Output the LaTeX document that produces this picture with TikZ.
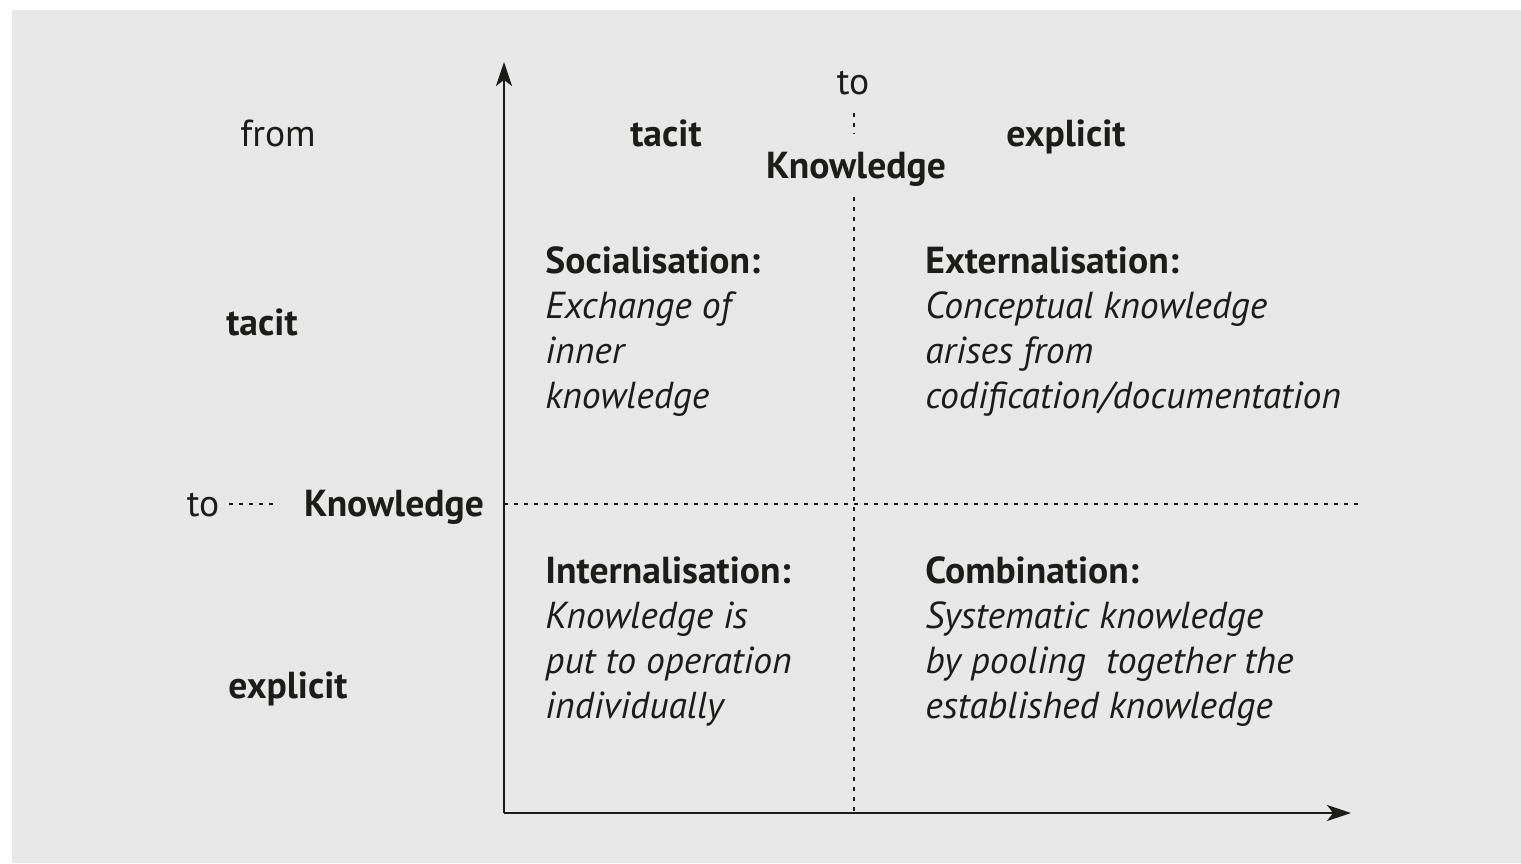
\documentclass[tikz,border=0pt]{standalone}
\usepackage{fontspec}
\setmainfont{PT Sans}
\usetikzlibrary{arrows.meta}
\definecolor{bgc}{HTML}{E8E8E8}
\definecolor{ink}{HTML}{1C1C1A}
\tikzset{
  txt/.style={inner sep=0pt, text=ink, font=\fontsize{18.8}{22.5}\selectfont, anchor=base west},
  ctxt/.style={inner sep=0pt, text=ink, font=\fontsize{18.8}{22.5}\selectfont, anchor=base},
  bld/.style={font=\fontsize{18.8}{22.5}\selectfont\bfseries},
  itl/.style={font=\fontsize{18.8}{22.5}\selectfont\itshape},
  axis/.style={draw=ink, line width=1pt, -{Stealth[length=12pt,width=8pt,inset=3pt]}},
  dotline/.style={draw=ink, line width=0.8pt, dash pattern=on 2.2pt off 2.8pt},
}
\begin{document}
\begin{tikzpicture}[x=0.5pt,y=-0.5pt]
\useasboundingbox (0,0) rectangle (1521,863);
\fill[bgc] (12,10) rectangle (1521,863);
% axes
\coordinate (O) at (504,813);
\coordinate (ytip) at (504,62);
\coordinate (xtip) at (1351,813);
\draw[axis] (O) -- (ytip);
\draw[axis] (O) -- (xtip);
% dotted lines
\coordinate (vtop) at (854,197);
\coordinate (vbot) at (854,813);
\coordinate (vs1) at (854,113);
\coordinate (vs2) at (854,134);
\coordinate (hl) at (504,504);
\coordinate (hr) at (1362,504);
\coordinate (ls1) at (229,504);
\coordinate (ls2) at (279,504);
\draw[dotline] (vtop) -- (vbot);
\draw[dotline] (vs1) -- (vs2);
\draw[dotline] (hl) -- (hr);
\draw[dotline] (ls1) -- (ls2);
% headers
\node[ctxt] (topto) at (853,94) {to};
\node[ctxt,bld] (topK) at (856,178) {Knowledge};
\node[ctxt] (from) at (278,146) {from};
\node[ctxt,bld] (ttacit) at (666,146) {tacit};
\node[ctxt,bld] (texpl) at (1066,146) {explicit};
\node[ctxt,bld] (ltacit) at (262,335) {tacit};
\node[ctxt,bld] (lexpl) at (288,698) {explicit};
\node[ctxt] (lto) at (203,516) {to};
\node[ctxt,bld] (lK) at (394,516) {Knowledge};
% quadrant: socialisation
\node[txt,bld] (s0) at (545,273) {Socialisation:};
\node[txt,itl] (s1) at (545,318) {Exchange of};
\node[txt,itl] (s2) at (545,363) {inner};
\node[txt,itl] (s3) at (545,408) {knowledge};
% externalisation
\node[txt,bld] (e0) at (925,273) {Externalisation:};
\node[txt,itl] (e1) at (925,318) {Conceptual knowledge};
\node[txt,itl] (e2) at (925,363) {arises from};
\node[txt,itl] (e3) at (925,408) {codification/documentation};
% internalisation
\node[txt,bld] (i0) at (545,583) {Internalisation:};
\node[txt,itl] (i1) at (545,628) {Knowledge is};
\node[txt,itl] (i2) at (545,673) {put to operation};
\node[txt,itl] (i3) at (545,718) {individually};
% combination
\node[txt,bld] (c0) at (925,583) {Combination:};
\node[txt,itl] (c1) at (925,628) {Systematic knowledge};
\node[txt,itl] (c2) at (925,673) {by pooling\ \ together the};
\node[txt,itl] (c3) at (925,718) {established knowledge};
\end{tikzpicture}
\end{document}
